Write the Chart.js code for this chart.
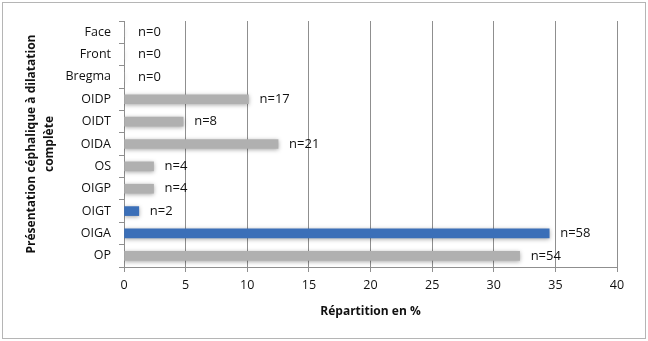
<!DOCTYPE html>
<html>
<head>
<meta charset="utf-8">
<script src="https://cdn.jsdelivr.net/npm/chart.js@4/dist/chart.umd.min.js"></script>
<style>
  body { margin: 0; background: #fff; }
  #wrap { position: relative; width: 648px; height: 341px; }
  #frame { position: absolute; left: 2px; top: 2px; width: 642px; height: 335px; border: 1px solid #b5b5b5; pointer-events: none; }
</style>
</head>
<body>
<div id="wrap">
  <canvas id="chart" width="648" height="341"></canvas>
  <div id="frame"></div>
</div>
<script>
// categories, top to bottom
const positions = ["Face", "Front", "Bregma", "OIDP", "OIDT", "OIDA", "OS", "OIGP", "OIGT", "OIGA", "OP"];
// percentage of cases
const percents = [0, 0, 0, 10.1, 4.8, 12.5, 2.4, 2.4, 1.2, 34.5, 32.1];
// counts shown beside each bar
const counts = [0, 0, 0, 17, 8, 21, 4, 4, 2, 58, 54];
const xTicks = [0, 5, 10, 15, 20, 25, 30, 35, 40];

const GRAY = '#b0b0b0';
const BLUE = '#3b6fb8';
const barColors = positions.map(p => (p === 'OIGT' || p === 'OIGA') ? BLUE : GRAY);

const FONT = "'Open Sans', sans-serif";

// soft shadow like the original bars
const shadowPlugin = {
  id: 'shadow',
  beforeDatasetsDraw(chart) {
    const ctx = chart.ctx;
    ctx.save();
    ctx.shadowColor = 'rgba(0,0,0,0.35)';
    ctx.shadowBlur = 4;
    ctx.shadowOffsetY = 1;
  },
  afterDatasetsDraw(chart) {
    chart.ctx.restore();
  }
};

// "n=.." labels at the end of each bar
const countLabels = {
  id: 'countLabels',
  afterDraw(chart) {
    const ctx = chart.ctx;
    const meta = chart.getDatasetMeta(0);
    ctx.save();
    ctx.font = '13px ' + FONT;
    ctx.fillStyle = '#111';
    ctx.textAlign = 'left';
    ctx.textBaseline = 'middle';
    meta.data.forEach((bar, i) => {
      const gap = percents[i] === 0 ? 14 : 11;
      ctx.fillText('n=' + counts[i], bar.x + gap, bar.y);
    });
    ctx.restore();
  }
};

new Chart(document.getElementById('chart'), {
  type: 'bar',
  data: {
    labels: positions,
    datasets: [{
      data: percents,
      backgroundColor: barColors,
      barThickness: 9,
      borderWidth: 0
    }]
  },
  options: {
    indexAxis: 'y',
    responsive: false,
    animation: false,
    layout: { padding: { left: 10, right: 31, top: 21, bottom: 10 } },
    plugins: { legend: { display: false }, tooltip: { enabled: false } },
    scales: {
      x: {
        min: 0,
        max: 40,
        afterBuildTicks: s => { s.ticks = xTicks.map(v => ({ value: v })); },
        afterFit: s => { s.height = 341 - 10 - 267; },
        grid: { color: '#8f8f8f', lineWidth: 1, tickLength: 5 },
        border: { color: '#8f8f8f' },
        ticks: { font: { family: FONT, size: 12.5 }, color: '#111', padding: 6 },
        title: {
          display: true,
          text: 'Répartition en %',
          font: { family: FONT, size: 12, weight: 'bold' },
          color: '#111',
          padding: { top: 0, bottom: 12 }
        }
      },
      y: {
        afterFit: s => { s.width = 124 - 10; },
        grid: { drawOnChartArea: false, color: '#8f8f8f', tickLength: 5 },
        border: { color: '#8f8f8f' },
        ticks: { font: { family: FONT, size: 12.5 }, color: '#111', padding: 8 },
        title: {
          display: true,
          text: ['Présentation céphalique à dilatation', 'complète'],
          font: { family: FONT, size: 12, weight: 'bold', lineHeight: 1.5 },
          color: '#111',
          padding: { top: 13, bottom: 0 }
        }
      }
    }
  },
  plugins: [shadowPlugin, countLabels]
});
</script>
</body>
</html>
